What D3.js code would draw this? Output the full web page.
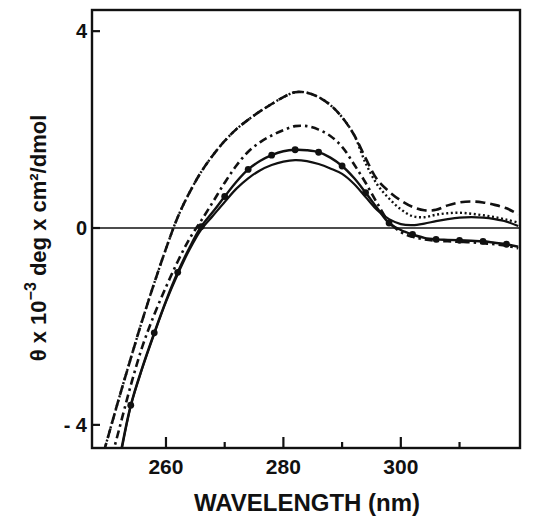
<!DOCTYPE html>
<html>
<head>
<meta charset="utf-8">
<script src="https://cdn.jsdelivr.net/npm/d3@7"></script>
<style>
  body { margin: 0; background: #fff; }
  text { font-family: "Liberation Sans", Arial, sans-serif; font-weight: bold; fill: #111; }
</style>
</head>
<body>
<div id="chart"></div>
<script>
// wavelength grid (nm) shared by all curves
var nm = [248, 250, 252, 254, 256, 258, 260, 262, 264, 266, 268, 270, 272, 274, 276, 278, 280, 282, 284,
          286, 288, 290, 292, 294, 296, 298, 300, 302, 304, 306, 308, 310, 312, 314, 316, 318, 320];

// molar ellipticity x 10^-3 (null = not drawn)
var dashed = [-5.15, -4.3, -3.46, -2.65, -1.86, -1.12, -0.42, 0.22, 0.72, 1.14, 1.48, 1.77, 2.01, 2.2, 2.37, 2.52, 2.66, 2.76, 2.75,
              2.66, 2.5, 2.25, 1.9, 1.42, 0.98, 0.74, 0.56, 0.43, 0.36, 0.37, 0.46, 0.52, 0.54, 0.52, 0.47, 0.4, 0.28];
var dotted = [-5.15, -4.3, -3.46, -2.65, -1.86, -1.12, -0.42, 0.22, 0.72, 1.14, 1.48, 1.77, 2.01, 2.2, 2.37, 2.52, 2.66, 2.76, 2.75,
              2.66, 2.5, 2.25, 1.9, 1.32, 0.88, 0.6, 0.38, 0.24, 0.22, 0.27, 0.3, 0.31, 0.29, 0.26, 0.22, 0.17, 0.11];
var dashdot = [null, -5.0, -4.1, -3.2, -2.4, -1.76, -1.2, -0.68, -0.22, 0.15, 0.53, 0.92, 1.27, 1.55, 1.74, 1.88, 1.99, 2.07, 2.07,
               2.0, 1.87, 1.65, 1.3, 0.92, 0.5, 0.12, -0.08, -0.18, -0.23, -0.26, -0.27, -0.28, -0.29, -0.31, -0.33, -0.36, -0.41];
var circles = [null, null, -4.75, -3.6, -2.82, -2.13, -1.48, -0.9, -0.4, 0.03, 0.33, 0.64, 0.94, 1.19, 1.36, 1.48, 1.56, 1.59, 1.58,
               1.54, 1.43, 1.26, 1.02, 0.72, 0.4, 0.1, -0.04, -0.13, -0.2, -0.23, -0.24, -0.25, -0.26, -0.27, -0.3, -0.33, -0.38];
var solid = [null, null, -4.8, -3.62, -2.84, -2.15, -1.5, -0.94, -0.44, -0.03, 0.25, 0.53, 0.8, 1.01, 1.17, 1.28, 1.35, 1.38, 1.36,
             1.3, 1.21, 1.1, 0.9, 0.63, 0.36, 0.18, 0.08, 0.06, 0.09, 0.14, 0.18, 0.21, 0.22, 0.21, 0.18, 0.13, 0.04];

var xMajor = [260, 280, 300];
var xMinor = [270, 290, 310];
var yTicks = [4, 0, -4];
var yTickLabels = ["4", "0", "- 4"];

var width = 536,
    height = 519,
    margin = {top: 10, right: 16, bottom: 71, left: 92};

var x = d3.scaleLinear().domain([247.4, 320.3]).range([margin.left, width - margin.right]);
var y = d3.scaleLinear().domain([-4.47, 4.43]).range([height - margin.bottom, margin.top]);

var svg = d3.select('#chart').append('svg')
    .attr('width', width)
    .attr('height', height);

svg.append('defs').append('clipPath').attr('id', 'plot')
  .append('rect')
    .attr('x', x.range()[0]).attr('y', y.range()[1])
    .attr('width', x.range()[1] - x.range()[0])
    .attr('height', y.range()[0] - y.range()[1]);

// zero line
svg.append('line')
    .attr('x1', x.range()[0]).attr('x2', x.range()[1])
    .attr('y1', y(0)).attr('y2', y(0))
    .attr('stroke', '#111').attr('stroke-width', 1.6);

var line = d3.line()
    .defined(function(d) { return d[1] !== null; })
    .x(function(d) { return x(d[0]); })
    .y(function(d) { return y(d[1]); })
    .curve(d3.curveCatmullRom);

function pairs(vals) {
  return nm.map(function(w, i) { return [w, vals[i]]; });
}

var series = [
  {vals: solid, dash: null, w: 2.2},
  {vals: circles, dash: null, w: 2.4},
  {vals: dashdot, dash: '8,4,2.5,4', w: 2.6},
  {vals: dashed, dash: '10,5', w: 2.6},
  {vals: dotted, dash: '2,2.6', w: 2.4}
];

var g = svg.append('g').attr('clip-path', 'url(#plot)');

series.forEach(function(s) {
  g.append('path')
      .datum(pairs(s.vals))
      .attr('d', line)
      .attr('fill', 'none')
      .attr('stroke', '#111')
      .attr('stroke-width', s.w)
      .attr('stroke-dasharray', s.dash);
});

// filled circle markers every 4 nm
g.selectAll('circle.mk')
    .data(pairs(circles).filter(function(d, i) { return d[1] !== null && i % 2 === 1; }))
  .enter().append('circle')
    .attr('class', 'mk')
    .attr('cx', function(d) { return x(d[0]); })
    .attr('cy', function(d) { return y(d[1]); })
    .attr('r', 3.4)
    .attr('fill', '#111');

// frame
svg.append('rect')
    .attr('x', x.range()[0]).attr('y', y.range()[1])
    .attr('width', x.range()[1] - x.range()[0])
    .attr('height', y.range()[0] - y.range()[1])
    .attr('fill', 'none').attr('stroke', '#111').attr('stroke-width', 2.4);

// x ticks pointing inward
var xb = y.range()[0];
svg.selectAll('line.xmaj').data(xMajor).enter().append('line')
    .attr('x1', x).attr('x2', x)
    .attr('y1', xb).attr('y2', xb - 11)
    .attr('stroke', '#111').attr('stroke-width', 2.2);
svg.selectAll('line.xmin').data(xMinor).enter().append('line')
    .attr('x1', x).attr('x2', x)
    .attr('y1', xb).attr('y2', xb - 6)
    .attr('stroke', '#111').attr('stroke-width', 2.2);
svg.selectAll('text.xl').data(xMajor).enter().append('text')
    .attr('x', x)
    .attr('y', xb + 26)
    .attr('text-anchor', 'middle')
    .style('font-size', '21px')
    .text(function(d) { return d; });

// y ticks
var yl = x.range()[0];
svg.selectAll('line.yt').data(yTicks).enter().append('line')
    .attr('x1', yl).attr('x2', yl + 8)
    .attr('y1', y).attr('y2', y)
    .attr('stroke', '#111').attr('stroke-width', 2.2);
svg.selectAll('text.yl').data(yTicks).enter().append('text')
    .attr('x', yl - 5)
    .attr('y', function(d) { return y(d) + 7; })
    .attr('text-anchor', 'end')
    .style('font-size', '20px')
    .text(function(d, i) { return yTickLabels[i]; });

// axis titles
svg.append('text')
    .attr('x', 307)
    .attr('y', 511)
    .attr('text-anchor', 'middle')
    .style('font-size', '24px')
    .text('WAVELENGTH (nm)');

var yt = svg.append('text')
    .attr('transform', 'translate(46,' + 238 + ') rotate(-90)')
    .attr('text-anchor', 'middle')
    .style('font-size', '22px');
yt.append('tspan').text('\u03b8 x 10');
yt.append('tspan').attr('dy', -10).style('font-size', '16px').text('\u22123');
yt.append('tspan').attr('dy', 10).text(' deg x cm\u00b2/dmol');
</script>
</body>
</html>
